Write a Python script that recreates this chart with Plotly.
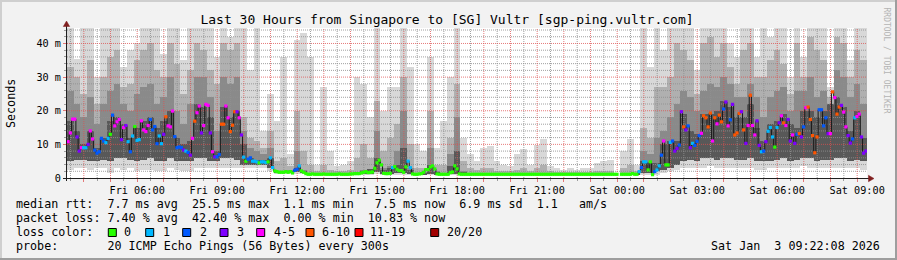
import plotly.graph_objects as go
import pandas as pd

# ---------------- data ----------------
T_START = "2026-01-02 03:22:08"
T_END = "2026-01-03 09:22:08"
STEP_MIN = 5          # median step
SMOKE_STEP_MIN = 15   # smoke step

# median RTT in ms, one value per 5 minutes (None = no data)
median_ms = [
    10.8, 13.4, 17.5, 17.5, 12.2, 8, 9, 9, 9, 10,
    14, 11.6, 8.3, 7.4, 7.8, 11.8, 11, 10.5, 11.8, 13,
    18.7, 15.5, 16.7, 17.4, 11.4, 15, 15.6, 10.8, 7.8, 12.5,
    15.3, 11.2, 11.4, 17, 14.3, 13.8, 15.6, 17.4, 14.3, 15.3,
    10.2, 12.5, 10.2, 13, 18.2, 15.5, 15.2, 19.9, 12.3, 9,
    9.2, 9, 8.3, 8, 7.6, 6.8, 11.8, 16.9, 19.4, 21.4,
    13.4, 15.6, 21.9, 21.6, 13.4, 7.8, 6.3, 6.3, 7, 16,
    16, 21.4, 17.9, 13.8,
    15.7, 19.7, 19.7, 17.9, 12.8, 6.2, 5.0, 5.6, 6.0, 5.0,
    5.0, 4.8, 4.5, 4.8, 4.8, 4.6, 4.8, 6.0, 3.1, 2.1,
    1.9, 1.7, 1.7, 1.7, 1.9, 1.7, 1.9, 1.5, 2.3, 2.6,
    3.6, 2.1, 1.7, 1.3,
    1.1, 1.1, 1.2, 1.1, 1.1, 1.1, 1.1, 1.2, 1.1, 1.1,
    1.1, 1.1, 1.1, 1.1, 1.2, 1.1, 1.1, 1.1, 1.1, 1.2,
    1.2, 1.3,
    1.3, 1.3, 1.5, 1.7, 1.9, 1.6, 1.7, 1.8, 2.9, 4.5,
    5.3, 3.9, 1.4, 1.3, 1.3, 1.4, 3.1, 3.4, 2.6, 2.2,
    2.2, 1.7, 3.3, 5.0, 3.1, 1.2, 1.1, 1.1, 1.2, 1.3,
    1.7, 2.5, 2.5, 3.3, 3.6, 2.7, 1.2, 1.1, 1.1, 1.1,
    1.1, 1.1, 1.6, 1.8, 3.6, 2.7, 1.2,
    1.1, 1.1, 1.1, 1.1, 1.1, 1.1, 1.1, 1.1, 1.1, 1.1,
    1.1, 1.1, 1.1, 1.1, 1.1, 1.1, 1.1, 1.1, 1.1, 1.1,
    1.1, 1.1, 1.1, 1.1, 1.1, 1.1, 1.1, 1.1, 1.1, 1.1,
    1.1, 1.1, 1.1, 1.1, 1.1, 1.1, 1.1, 1.1, 1.1, 1.1,
    1.1, 1.1, 1.1, 1.1, 1.1, 1.1, 1.1, 1.1, 1.1, 1.1,
    1.1, 1.1, 1.1, 1.1, 1.1, 1.1, 1.1, 1.1, 1.1, 1.1,
    1.1, 1.1, 1.1, 1.1, 1.1, 1.1, 1.1, 1.1, 1.1, 1.1,
    1.1,
    None,
    1.1, 1.1, 1.1, 1.1, 1.1, 1.3, 1.1, 1.1, 1.9, 3.1,
    4.8, 4.8, 2.4, 4.8, 1.0, 1.9, 2.4, 3.6, 6.8, 11,
    3.9, 3.9, 10.6, 11, 8.0, 8.8, 9.8, 19.7, 15.2, 14.3,
    15.5, 9, 10.3, 9.7, 10.9, 12.6, 13.3, 18.5, 17.9, 15.2,
    19.3,
    11.0, 17.9, 16.1, 18.7, 16.7, 20.5, 22.6, 15.5, 17.3, 21.9,
    12.8, 13.4, 19.2, 19.7, 14.3, 10.3, 15.6, 24.6, 15.6, 12.8,
    17, 9.7, 7.8, 8, 10.8, 13.9, 15, 12.2, 9.2, 15,
    16.4, 18.5, 16.4, 15.6, 17.4, 11, 12.8, 10.3, 13, 13.2,
    12.2, 15.2, 20.9, 21.1, 17.4, 12.6, 7.5, 12.2, 20.3, 20.3,
    15.5, 17.9, 13.2, 13.2, 25.6, 23.9, 19, 21.1, 21.6, 19.6,
    15.2, 12.6, 10.4, 11.6, 17.9, 18.3, 19, 12.2, 7.4, 8,
]

# lost pings (of 20) for each median step
loss_pings = [
    4, 4, 4, 4, 3, 3, 4, 1, 1, 3,
    4, 4, 2, 2, 2, 2, 2, 1, 1, 0,
    2, 4, 4, 4, 3, 4, 3, 1, 2, 1,
    0, 1, 1, 4, 4, 4, 4, 2, 2, 2,
    2, 1, 1, 3, 8, 4, 4, 4, 2, 2,
    2, 2, 3, 1, 2, 3, 4, 8, 4, 4,
    3, 4, 4, 4, 3, 4, 3, 2, 2, 8,
    8, 4, 4, 8,
    8, 8, 3, 4, 3, 1, 0, 2, 2, 1,
    1, 1, 0, 1, 1, 1, 0, 1, 1, 0,
    0, 0, 0, 0, 0, 0, 0, 0, 2, 2,
    1, 0, 0, 0,
    0, 0, 0, 0, 0, 0, 0, 0, 0, 0,
    0, 0, 0, 0, 0, 0, 0, 0, 0, 0,
    0, 0,
    0, 0, 0, 0, 0, 0, 0, 0, 0, 0,
    0, 0, 0, 0, 0, 0, 1, 0, 0, 0,
    0, 0, 0, 1, 1, 0, 0, 0, 0, 0,
    0, 0, 0, 0, 0, 0, 0, 0, 0, 0,
    0, 0, 0, 0, 0, 0, 0,
    0, 0, 0, 0, 0, 0, 0, 0, 0, 0,
    0, 0, 0, 0, 0, 0, 0, 0, 0, 0,
    0, 0, 0, 0, 0, 0, 0, 0, 0, 0,
    0, 0, 0, 0, 0, 0, 0, 0, 0, 0,
    0, 0, 0, 0, 0, 0, 0, 0, 0, 0,
    0, 0, 0, 0, 0, 0, 0, 0, 0, 0,
    0, 0, 0, 0, 0, 0, 0, 0, 0, 0,
    0,
    0,
    0, 0, 0, 0, 0, 0, 0, 0, 1, 2,
    1, 1, 0, 0, 0, 2, 1, 1, 2, 4,
    0, 0, 1, 2, 3, 3, 2, 3, 8, 3,
    2, 3, 1, 2, 2, 2, 4, 8, 8, 8,
    8,
    4, 8, 4, 8, 8, 2, 3, 4, 2, 3,
    8, 8, 8, 3, 8, 3, 4, 8, 4, 4,
    3, 3, 1, 2, 3, 1, 1, 1, 0, 1,
    3, 4, 8, 4, 3, 3, 4, 3, 2, 8,
    3, 2, 4, 8, 8, 8, 8, 8, 2, 2,
    2, 2, 3, 4, 8, 4, 8, 8, 3, 4,
    4, 3, 3, 2, 1, 4, 4, 3, 3, 3,
]

# smoke (ping spread) per 15 minutes, in ms
# bottom of all smoke
smoke_lo = [
    2.5, 3, 3, 2.5, 3, 3, 1.5, 3, 2.5, 3, 2, 2.5, 2.5, 2, 2, 3, 2.5, 2, 2, 3,
    3, 3, 3, 3, 3, 3, 3, 3, 3, 3, 2, 1.2, 1.2, 1.2, 1.3, 1.2, 0.9, 0.9, 0.9, 0.9,
    0.9, 0.9, 0.9, 0.9, 1.0, 1.0, 1.2, 1.0, 1.0, 1.0, 1.0, 0.9, 0.9, 0.9, 1.0, 0.9, 0.9, 0.9, 1.0, 0.9,
    0.9, 0.9, 0.9, 0.9, 0.9, 0.9, 0.9, 0.9, 0.9, 0.9, 0.9, 0.9, 0.9, 0.9, 0.9, 0.9, 0.9, 0.9, 0.9, 0.9,
    0.9, 0.9, None, 0.9, 0.9, 0.9, 1.0, 1.0, 1.0, 1.5, 2, 2.5, 3, 3, 3, 3, 3.5, 3, 3, 3,
    3, 3, 3, 2.5, 2.5, 3, 3, 3, 3, 3, 3.5, 3, 3, 3, 3, 3, 3, 3, 3, 2.5,
]
# bottom of the dense core
smoke_core = [
    5, 5.5, 5.5, 5, 5, 5.5, 5, 6, 6, 5.5, 5, 5.5, 6, 5, 5, 6, 5, 5, 5, 6,
    6, 5, 5, 6, 6, 5.5, 4, 4, 3.8, 3.8, 3, 1.4, 1.4, 1.4, 1.8, 1.4, 1.0, 1.0, 1.0, 1.0,
    1.0, 1.0, 1.0, 1.0, 1.2, 1.3, 1.8, 1.2, 1.2, 1.5, 1.4, 1.1, 1.0, 1.0, 1.3, 1.0, 1.0, 1.1, 1.3, 1.0,
    1.0, 1.0, 1.0, 1.0, 1.0, 1.0, 1.0, 1.0, 1.0, 1.0, 1.0, 1.0, 1.0, 1.0, 1.0, 1.0, 1.0, 1.0, 1.0, 1.0,
    1.0, 1.0, None, 1.0, 1.0, 1.0, 1.5, 1.5, 2, 2.5, 3, 4, 5, 5.5, 5, 6, 6, 5.5, 6, 6,
    5.5, 5.5, 6, 5, 5, 5, 5.5, 6, 5, 5.5, 6, 6, 5, 5.5, 5.5, 6, 6, 5, 5.5, 5,
]
# top of the darkest band (around the median)
smoke_dark = [
    17, 14, 10, 14, 9, 12, 17, 18, 16, 12, 15, 17, 18, 15, 17, 20, 12, 10, 11, 22,
    21, 18, 8, 21, 18, 20, 10, 6, 5.5, 5.5, 6,
    2, 2, 2.2, 3, 2.2, 1.5, 1.3, 1.3, 1.3, 1.3,
    1.3, 1.3, 1.6, 2.2, 2.8, 6, 2.5, 3, 4, 9,
    2.5, 1.5, 1.6, 4, 1.8, 1.5, 3.5, 8, 1.8, 1.4,
    1.3, 1.3, 1.3, 1.3, 1.3, 1.3, 1.3, 1.3, 1.3, 1.3,
    1.3, 1.3, 1.3, 1.3, 1.3, 1.3, 1.3, 1.3, 1.3, 1.3,
    1.3, None, 1.3, 1.3, 1.4,
    5, 4.5, 4.5, 10, 11, 11, 19, 14, 13, 19,
    19, 20, 23, 21, 18, 18, 22, 15, 11, 16,
    17, 19, 16, 15, 20, 20, 18, 20, 22, 24,
    21, 14, 20, 12,
]
# top of the medium-dark band
smoke_md = [
    26, 22, 18, 24, 16, 22, 26, 28, 22, 20, 25, 27, 28, 22, 24, 30, 20, 16, 22, 30,
    30, 24, 14, 30, 28, 30, 14, 9, 8, 7, 9,
    2.2, 2.2, 2.5, 8, 2.5, 1.6, 1.4, 1.4, 1.4, 1.3,
    1.3, 1.4, 1.8, 2.5, 2.8, 14, 3, 3.5, 8, 20,
    3, 1.6, 1.8, 9, 2, 1.6, 7, 18, 2, 1.5,
    1.4, 1.4, 1.4, 1.3, 1.3, 1.3, 1.3, 1.4, 1.3, 1.4,
    1.4, 1.3, 1.3, 1.3, 1.3, 1.3, 1.3, 1.3, 1.3, 1.3,
    1.3, None, 1.3, 1.4, 1.5,
    8, 7, 12, 14, 18, 22, 26, 24, 20, 26,
    28, 27, 30, 28, 24, 24, 28, 24, 18, 24,
    26, 27, 20, 26, 26, 30, 24, 26, 22, 32,
    30, 24, 28, 22,
]
# top of the medium band
smoke_mid = [
    33, 30, 25, 35, 22, 30, 36, 38, 27, 28, 35, 38, 40, 32, 30, 40, 34, 25, 32, 40,
    38, 32, 28, 40, 38, 40, 18, 12, 11, 9, 14, 5, 6, 3.5, 20, 8, 4, 2, 4, 2.5,
    2, 2, 2.5, 6, 10, 6, 23, 8, 12, 16, 30, 10, 3, 3, 20, 4, 4, 12, 28, 5,
    3, 2.5, 3, 3, 2, 2, 2, 2.5, 3, 2, 3, 4, 2, 1.8, 1.8, 1.8, 1.8, 1.8, 1.8, 2,
    2, 2.2, None, 3, 4, 2.2, 15, 12, 27, 27, 30, 40, 38, 35, 25, 40, 42, 36, 40, 33,
    28, 38, 40, 30, 30, 35, 38, 34, 25, 40, 30, 42, 38, 35, 24, 42, 40, 30, 38, 35,
]
# top of all smoke
smoke_hi = [
    44.6, 35.5, 44.6, 44.6, 30, 44.6, 44.6, 44.6, 33, 38, 40, 44.6, 44.6, 44.6, 37, 44.6, 44.6, 35, 44.6, 44.6,
    44.6, 44.6, 36, 44.6, 42, 44.6, 44.6, 32, 44.6, 14, 25, 17, 36, 7, 41, 43, 36, 4, 27, 8,
    3.5, 4, 5, 30, 28, 18, 44.6, 20, 27, 27, 44.6, 33, 10, 8, 36, 9, 17, 30, 44.6, 12,
    7, 5, 9, 9.4, 5, 4, 3.5, 7, 8.5, 4, 9.8, 11.7, 3.5, 3, 2.5, 3, 2.5, 3, 3, 4.5,
    5, 5.5, None, 8, 11.7, 4, 44.6, 33, 44.6, 38, 44.6, 44.6, 44.6, 44.6, 32, 44.6, 44.6, 44.6, 44.6, 40,
    36, 44.6, 44.6, 36, 44.6, 42, 44.6, 44.6, 30, 44.6, 36, 44.6, 44.6, 44.6, 27, 44.6, 44.6, 35, 44.6, 44.6,
]

LOSS_LABELS = ["0", "1", "2", "3", "4-5", "6-10", "11-19", "20/20"]
LOSS_COLORS = ["#26ff00", "#00b8ff", "#0059ff", "#7e00ff", "#ff00ff", "#ff5500", "#ff0000", "#a10000"]
TICK_LABELS = ["Fri 06:00", "Fri 09:00", "Fri 12:00", "Fri 15:00", "Fri 18:00",
               "Fri 21:00", "Sat 00:00", "Sat 03:00", "Sat 06:00", "Sat 09:00"]
Y_TICKS = [0, 10, 20, 30, 40]
Y_TICK_TEXT = ["0", "10 m", "20 m", "30 m", "40 m"]
Y_MAX = 44.6

LEGEND_LINES = [
    "median rtt:  7.7 ms avg  25.5 ms max  1.1 ms min   7.5 ms now  6.9 ms sd  1.1   am/s",
    "packet loss: 7.40 % avg  42.40 % max  0.00 % min  10.83 % now",
    "loss color:",
    "probe:       20 ICMP Echo Pings (56 Bytes) every 300s",
]
STAMP = "Sat Jan  3 09:22:08 2026"
TITLE = "Last 30 Hours from Singapore to [SG] Vultr [sgp-ping.vultr.com]"

# ---------------- helpers ----------------
t0 = pd.Timestamp(T_START)
t1 = pd.Timestamp(T_END)


def loss_class(n):
    if n <= 3:
        return n
    if n <= 5:
        return 4
    if n <= 10:
        return 5
    if n <= 19:
        return 6
    return 7


x_med = [t0 + pd.Timedelta(minutes=STEP_MIN * (i + 0.5)) for i in range(len(median_ms))]
x_smoke = [t0 + pd.Timedelta(minutes=SMOKE_STEP_MIN * (k + 0.5)) for k in range(len(smoke_hi))]
bar_w = SMOKE_STEP_MIN * 60 * 1000

FONT = "DejaVu Sans Mono"
W, H = 897, 260
ML, MR, MT, MB = 67, 30, 28, 82
PW, PH = W - ML - MR, H - MT - MB


def px(x):
    return (x - ML) / PW


def py(y):
    return (H - MB - y) / PH


fig = go.Figure()


def band(lo, hi, color):
    heights = [None if (l is None or h is None) else h - l for l, h in zip(lo, hi)]
    fig.add_trace(go.Bar(x=x_smoke, base=lo, y=heights, width=bar_w,
                         marker=dict(color=color, line=dict(width=0)),
                         hoverinfo="skip", showlegend=False))


band(smoke_lo, smoke_hi, "#d8d8d8")
band(smoke_core, smoke_mid, "#b0b0b0")
band(smoke_core, smoke_md, "#8a8a8a")
band(smoke_core, smoke_dark, "#585858")

# grid (drawn over the smoke, like rrdtool)
hours = pd.date_range("2026-01-02 04:00", "2026-01-03 09:00", freq="1h")
halves = pd.date_range("2026-01-02 03:30", "2026-01-03 08:30", freq="1h")


def vlines(times):
    xs, ys = [], []
    for t in times:
        xs += [t, t, None]
        ys += [0, Y_MAX, None]
    return xs, ys


def hlines(vals):
    xs, ys = [], []
    for v in vals:
        xs += [t0, t1, None]
        ys += [v, v, None]
    return xs, ys


MINOR_C = "rgba(143,143,143,0.85)"
MAJOR_C = "rgba(222,79,79,0.75)"
gx, gy = vlines(halves)
hx, hy = hlines([v for v in range(2, 45, 2) if v % 10])
fig.add_trace(go.Scatter(x=gx + hx, y=gy + hy, mode="lines",
                         line=dict(color=MINOR_C, width=1, dash="1px,1px"),
                         hoverinfo="skip", showlegend=False))
gx, gy = vlines(hours)
hx, hy = hlines([10, 20, 30, 40])
fig.add_trace(go.Scatter(x=gx + hx, y=gy + hy, mode="lines",
                         line=dict(color=MAJOR_C, width=1, dash="1px,1px"),
                         hoverinfo="skip", showlegend=False))

# median
fig.add_trace(go.Scatter(x=x_med, y=median_ms, mode="lines",
                         line=dict(color="#1a1a1a", width=1, shape="hvh"),
                         hoverinfo="skip", showlegend=False))
fig.add_trace(go.Scatter(x=x_med, y=median_ms, mode="markers",
                         marker=dict(symbol="square", size=3.2,
                                     color=[LOSS_COLORS[loss_class(n)] for n in loss_pings],
                                     line=dict(width=0)),
                         hoverinfo="skip", showlegend=False))

tick_text = []
for h in hours:
    lab = h.strftime("%a %H:%M")
    tick_text.append(lab if lab in TICK_LABELS else "")

fig.update_layout(
    width=W, height=H, margin=dict(l=ML, r=MR, t=MT, b=MB),
    paper_bgcolor="#f2f2f2", plot_bgcolor="#ffffff",
    barmode="overlay", bargap=0, showlegend=False,
    font=dict(family=FONT, color="#000000"),
    title=dict(text=TITLE, x=447 / W, xanchor="center", y=1 - 19 / H, yanchor="middle",
               yref="container", font=dict(family=FONT, size=13, color="#000000")),
    xaxis=dict(type="date", range=[t0, t1], showgrid=False, zeroline=False, showline=False,
               tickmode="array", tickvals=list(hours), ticktext=tick_text,
               ticks="outside", ticklen=3, tickcolor=MAJOR_C,
               tickfont=dict(family=FONT, size=10.2, color="#000000"),
               minor=dict(tickmode="array", tickvals=list(halves), ticks="outside",
                          ticklen=2, tickcolor=MINOR_C, showgrid=False),
               fixedrange=True),
    yaxis=dict(range=[0, Y_MAX], showgrid=False, zeroline=False, showline=False,
               tickmode="array", tickvals=Y_TICKS, ticktext=Y_TICK_TEXT,
               ticks="outside", ticklen=3, tickcolor=MAJOR_C,
               tickfont=dict(family=FONT, size=10.2, color="#000000"),
               minor=dict(tickmode="array", tickvals=[v for v in range(2, 45, 2) if v % 10],
                          ticks="outside", ticklen=2, tickcolor=MINOR_C, showgrid=False),
               fixedrange=True),
)

shapes = []
# 3D frame of the image
shapes.append(dict(type="line", xref="paper", yref="paper", x0=px(0), x1=px(W), y0=py(1), y1=py(1),
                   line=dict(color="#cfcfcf", width=2)))
shapes.append(dict(type="line", xref="paper", yref="paper", x0=px(1), x1=px(1), y0=py(0), y1=py(H),
                   line=dict(color="#cfcfcf", width=2)))
shapes.append(dict(type="line", xref="paper", yref="paper", x0=px(0), x1=px(W), y0=py(H - 1), y1=py(H - 1),
                   line=dict(color="#9e9e9e", width=2)))
shapes.append(dict(type="line", xref="paper", yref="paper", x0=px(W - 1), x1=px(W - 1), y0=py(0), y1=py(H),
                   line=dict(color="#9e9e9e", width=2)))
# axes with arrows
AX = "#1f1f1f"
shapes.append(dict(type="line", xref="paper", yref="paper", x0=px(63), x1=px(869),
                   y0=py(178.5), y1=py(178.5), line=dict(color=AX, width=1)))
shapes.append(dict(type="line", xref="paper", yref="paper", x0=px(66.5), x1=px(66.5),
                   y0=py(181), y1=py(24), line=dict(color=AX, width=1)))
ARROW = "#801f1f"
shapes.append(dict(type="path", xref="paper", yref="paper",
                   path=f"M {px(66.5)},{py(21)} L {px(63.3)},{py(26.5)} L {px(69.7)},{py(26.5)} Z",
                   fillcolor=ARROW, line=dict(color=ARROW, width=0.5)))
shapes.append(dict(type="path", xref="paper", yref="paper",
                   path=f"M {px(874)},{py(178.5)} L {px(868.5)},{py(175.3)} L {px(868.5)},{py(181.7)} Z",
                   fillcolor=ARROW, line=dict(color=ARROW, width=0.5)))

annotations = []
NB = "\u00a0"
LEG_FS = 11.7
line_y = [204.3, 218.3, 232.3, 246.2]
for txt, yy in zip(LEGEND_LINES, line_y):
    annotations.append(dict(text=txt.replace(" ", NB), xref="paper", yref="paper",
                            x=px(13.8), y=py(yy), xanchor="left", yanchor="middle",
                            showarrow=False, font=dict(family=FONT, size=LEG_FS, color="#000000")))
annotations.append(dict(text=STAMP.replace(" ", NB), xref="paper", yref="paper",
                        x=px(882), y=py(246.2), xanchor="right", yanchor="middle",
                        showarrow=False, font=dict(family=FONT, size=LEG_FS, color="#000000")))

# loss colour boxes
box_x = [108.3, 145.7, 182.7, 220, 256.7, 306, 355, 430.7]
lab_x = [122, 160.7, 198, 235.3, 272, 319.7, 368, 444.7]
for bx, lx, col, lab in zip(box_x, lab_x, LOSS_COLORS, LOSS_LABELS):
    shapes.append(dict(type="rect", xref="paper", yref="paper",
                       x0=px(bx), x1=px(bx + 8), y0=py(236.5), y1=py(228.5),
                       fillcolor=col, line=dict(color="#000000", width=1)))
    annotations.append(dict(text=lab, xref="paper", yref="paper", x=px(lx), y=py(232.3),
                            xanchor="left", yanchor="middle", showarrow=False,
                            font=dict(family=FONT, size=LEG_FS, color="#000000")))

annotations.append(dict(text="Seconds", xref="paper", yref="paper", x=px(11), y=py(103),
                        xanchor="center", yanchor="middle", textangle=-90, showarrow=False,
                        font=dict(family=FONT, size=11.7, color="#000000")))
annotations.append(dict(text="RRDTOOL / TOBI OETIKER", xref="paper", yref="paper",
                        x=px(886.5), y=py(60), xanchor="center", yanchor="middle",
                        textangle=90, showarrow=False,
                        font=dict(family=FONT, size=8, color="#b4b4b4")))

fig.update_layout(shapes=shapes, annotations=annotations)
fig.write_html("out.html")
